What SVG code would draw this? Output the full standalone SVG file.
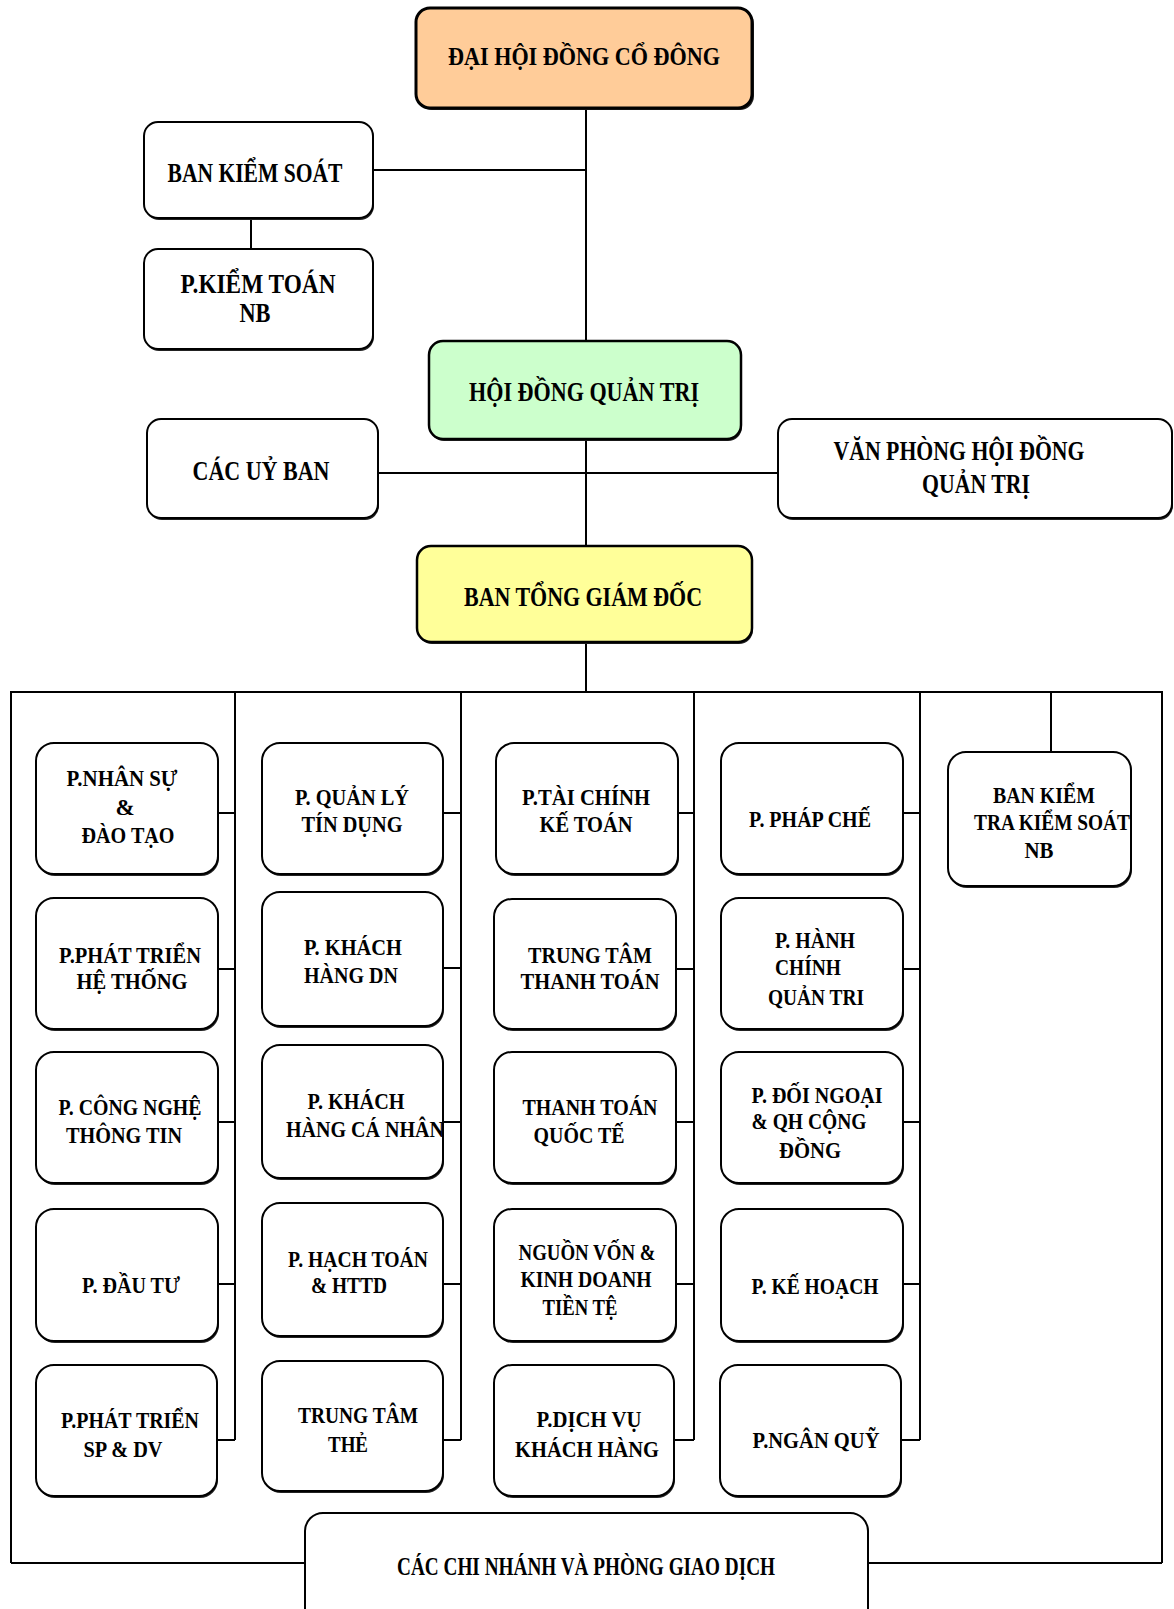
<svg xmlns="http://www.w3.org/2000/svg" width="1174" height="1609" viewBox="0 0 1174 1609">
<style>
.bx{fill:#fff;stroke:#000;stroke-width:2}
.sh{fill:#222;stroke:none}
.c1{fill:#FFCC99;stroke:#000;stroke-width:3}
.c2{fill:#CCFFCC;stroke:#000;stroke-width:2.5}
.c3{fill:#FFFF99;stroke:#000;stroke-width:2.5}
.ln{stroke:#000;stroke-width:2;fill:none}
text{font-family:"Liberation Serif","Times New Roman",serif;font-weight:bold;text-anchor:middle;fill:#000}
.f1{font-size:28px}
.f0{font-size:26px}
.f2{font-size:23px}
</style>
<rect width="1174" height="1609" fill="#fff"/>
<g id="connectors">
<path class="ln" d="M586 108V341M586 439V546M586 642V692"/>
<path class="ln" d="M373 170H586M251 218V249M378 473H778"/>
<path class="ln" d="M11 1563V692H1162V1563M11 1563H305M868 1563H1162"/>
<path class="ln" d="M1051 692V752"/>
<path class="ln" d="M235 692V1440M461 692V1440M694 692V1440M920 692V1440"/>
<path class="ln" d="M218 813H235M218 969H235M218 1122H235M218 1284H235M217 1440H235"/>
<path class="ln" d="M443 813H461M443 968H461M443 1122H461M443 1284H461M443 1440H461"/>
<path class="ln" d="M677 813H694M676 969H694M676 1122H694M676 1284H694M674 1440H694"/>
<path class="ln" d="M903 813H920M903 969H920M903 1122H920M903 1284H920M901 1440H920"/>
</g>
<g id="dhdcd"><rect class="sh" x="418" y="10" width="336" height="100" rx="14"/><rect class="c1" x="416" y="8" width="336" height="100" rx="14"/><text class="f0" x="584" y="65" textLength="272" lengthAdjust="spacingAndGlyphs">ĐẠI HỘI ĐỒNG CỔ ĐÔNG</text></g>
<g id="bks"><rect class="sh" x="145" y="124" width="229" height="96" rx="14"/><rect class="bx" x="144" y="122" width="229" height="96" rx="14"/><text class="f1" x="255" y="182" textLength="175" lengthAdjust="spacingAndGlyphs">BAN KIỂM SOÁT</text></g>
<g id="pkt"><rect class="sh" x="145" y="251" width="229" height="100" rx="14"/><rect class="bx" x="144" y="249" width="229" height="100" rx="14"/><text class="f1" x="258" y="293" textLength="155" lengthAdjust="spacingAndGlyphs">P.KIỂM TOÁN</text><text class="f1" x="255" y="322" textLength="31" lengthAdjust="spacingAndGlyphs">NB</text></g>
<g id="hdqt"><rect class="sh" x="430" y="343" width="312" height="98" rx="14"/><rect class="c2" x="429" y="341" width="312" height="98" rx="14"/><text class="f1" x="584" y="401" textLength="230" lengthAdjust="spacingAndGlyphs">HỘI ĐỒNG QUẢN TRỊ</text></g>
<g id="ucb"><rect class="sh" x="148" y="421" width="231" height="99" rx="14"/><rect class="bx" x="147" y="419" width="231" height="99" rx="14"/><text class="f1" x="261" y="480" textLength="137" lengthAdjust="spacingAndGlyphs">CÁC UỶ BAN</text></g>
<g id="vp"><rect class="sh" x="779" y="421" width="394" height="99" rx="14"/><rect class="bx" x="778" y="419" width="394" height="99" rx="14"/><text class="f1" x="959" y="460" textLength="251" lengthAdjust="spacingAndGlyphs">VĂN PHÒNG HỘI ĐỒNG</text><text class="f1" x="976" y="493" textLength="108" lengthAdjust="spacingAndGlyphs">QUẢN TRỊ</text></g>
<g id="btgd"><rect class="sh" x="418" y="548" width="335" height="96" rx="14"/><rect class="c3" x="417" y="546" width="335" height="96" rx="14"/><text class="f1" x="583" y="606" textLength="238" lengthAdjust="spacingAndGlyphs">BAN TỔNG GIÁM ĐỐC</text></g>

<g id="c1r1"><rect class="sh" x="37" y="745" width="182" height="131" rx="18"/><rect class="bx" x="36" y="743" width="182" height="131" rx="18"/><text class="f2" x="122" y="786" textLength="111" lengthAdjust="spacingAndGlyphs">P.NHÂN SỰ</text><text class="f2" x="125" y="815">&amp;</text><text class="f2" x="128" y="843" textLength="93" lengthAdjust="spacingAndGlyphs">ĐÀO TẠO</text></g>
<g id="c1r2"><rect class="sh" x="37" y="900" width="182" height="131" rx="18"/><rect class="bx" x="36" y="898" width="182" height="131" rx="18"/><text class="f2" x="130" y="963" textLength="142" lengthAdjust="spacingAndGlyphs">P.PHÁT TRIỂN</text><text class="f2" x="132" y="989" textLength="111" lengthAdjust="spacingAndGlyphs">HỆ THỐNG</text></g>
<g id="c1r3"><rect class="sh" x="37" y="1054" width="182" height="131" rx="18"/><rect class="bx" x="36" y="1052" width="182" height="131" rx="18"/><text class="f2" x="130" y="1115" textLength="143" lengthAdjust="spacingAndGlyphs">P. CÔNG NGHỆ</text><text class="f2" x="124" y="1143" textLength="116" lengthAdjust="spacingAndGlyphs">THÔNG TIN</text></g>
<g id="c1r4"><rect class="sh" x="37" y="1211" width="182" height="132" rx="18"/><rect class="bx" x="36" y="1209" width="182" height="132" rx="18"/><text class="f2" x="131" y="1293" textLength="98" lengthAdjust="spacingAndGlyphs">P. ĐẦU TƯ</text></g>
<g id="c1r5"><rect class="sh" x="37" y="1367" width="181" height="131" rx="18"/><rect class="bx" x="36" y="1365" width="181" height="131" rx="18"/><text class="f2" x="130" y="1428" textLength="138" lengthAdjust="spacingAndGlyphs">P.PHÁT TRIỂN</text><text class="f2" x="123" y="1457" textLength="79" lengthAdjust="spacingAndGlyphs">SP &amp; DV</text></g>

<g id="c2r1"><rect class="sh" x="263" y="745" width="181" height="131" rx="18"/><rect class="bx" x="262" y="743" width="181" height="131" rx="18"/><text class="f2" x="352" y="805" textLength="114" lengthAdjust="spacingAndGlyphs">P. QUẢN LÝ</text><text class="f2" x="352" y="832" textLength="101" lengthAdjust="spacingAndGlyphs">TÍN DỤNG</text></g>
<g id="c2r2"><rect class="sh" x="263" y="894" width="181" height="134" rx="18"/><rect class="bx" x="262" y="892" width="181" height="134" rx="18"/><text class="f2" x="353" y="955" textLength="98" lengthAdjust="spacingAndGlyphs">P. KHÁCH</text><text class="f2" x="351" y="983" textLength="94" lengthAdjust="spacingAndGlyphs">HÀNG DN</text></g>
<g id="c2r3"><rect class="sh" x="263" y="1047" width="181" height="133" rx="18"/><rect class="bx" x="262" y="1045" width="181" height="133" rx="18"/><text class="f2" x="356" y="1109" textLength="97" lengthAdjust="spacingAndGlyphs">P. KHÁCH</text><text class="f2" x="365" y="1137" textLength="158" lengthAdjust="spacingAndGlyphs">HÀNG CÁ NHÂN</text></g>
<g id="c2r4"><rect class="sh" x="263" y="1205" width="181" height="133" rx="18"/><rect class="bx" x="262" y="1203" width="181" height="133" rx="18"/><text class="f2" x="358" y="1267" textLength="140" lengthAdjust="spacingAndGlyphs">P. HẠCH TOÁN</text><text class="f2" x="349" y="1293" textLength="76" lengthAdjust="spacingAndGlyphs">&amp; HTTD</text></g>
<g id="c2r5"><rect class="sh" x="263" y="1363" width="181" height="130" rx="18"/><rect class="bx" x="262" y="1361" width="181" height="130" rx="18"/><text class="f2" x="358" y="1423" textLength="120" lengthAdjust="spacingAndGlyphs">TRUNG TÂM</text><text class="f2" x="348" y="1452" textLength="40" lengthAdjust="spacingAndGlyphs">THẺ</text></g>

<g id="c3r1"><rect class="sh" x="497" y="745" width="182" height="131" rx="18"/><rect class="bx" x="496" y="743" width="182" height="131" rx="18"/><text class="f2" x="586" y="805" textLength="128" lengthAdjust="spacingAndGlyphs">P.TÀI CHÍNH</text><text class="f2" x="586" y="832" textLength="93" lengthAdjust="spacingAndGlyphs">KẾ TOÁN</text></g>
<g id="c3r2"><rect class="sh" x="495" y="901" width="182" height="130" rx="18"/><rect class="bx" x="494" y="899" width="182" height="130" rx="18"/><text class="f2" x="590" y="963" textLength="124" lengthAdjust="spacingAndGlyphs">TRUNG TÂM</text><text class="f2" x="590" y="989" textLength="139" lengthAdjust="spacingAndGlyphs">THANH TOÁN</text></g>
<g id="c3r3"><rect class="sh" x="495" y="1054" width="182" height="131" rx="18"/><rect class="bx" x="494" y="1052" width="182" height="131" rx="18"/><text class="f2" x="590" y="1115" textLength="135" lengthAdjust="spacingAndGlyphs">THANH TOÁN</text><text class="f2" x="579" y="1143" textLength="91" lengthAdjust="spacingAndGlyphs">QUỐC TẾ</text></g>
<g id="c3r4"><rect class="sh" x="495" y="1211" width="182" height="132" rx="18"/><rect class="bx" x="494" y="1209" width="182" height="132" rx="18"/><text class="f2" x="587" y="1260" textLength="137" lengthAdjust="spacingAndGlyphs">NGUỒN VỐN &amp;</text><text class="f2" x="586" y="1287" textLength="131" lengthAdjust="spacingAndGlyphs">KINH DOANH</text><text class="f2" x="580" y="1315" textLength="75" lengthAdjust="spacingAndGlyphs">TIỀN TỆ</text></g>
<g id="c3r5"><rect class="sh" x="495" y="1367" width="180" height="131" rx="18"/><rect class="bx" x="494" y="1365" width="180" height="131" rx="18"/><text class="f2" x="589" y="1427" textLength="105" lengthAdjust="spacingAndGlyphs">P.DỊCH VỤ</text><text class="f2" x="587" y="1457" textLength="144" lengthAdjust="spacingAndGlyphs">KHÁCH HÀNG</text></g>

<g id="c4r1"><rect class="sh" x="722" y="745" width="182" height="131" rx="18"/><rect class="bx" x="721" y="743" width="182" height="131" rx="18"/><text class="f2" x="810" y="827" textLength="122" lengthAdjust="spacingAndGlyphs">P. PHÁP CHẾ</text></g>
<g id="c4r2"><rect class="sh" x="722" y="900" width="182" height="131" rx="18"/><rect class="bx" x="721" y="898" width="182" height="131" rx="18"/><text class="f2" x="815" y="948" textLength="80" lengthAdjust="spacingAndGlyphs">P. HÀNH</text><text class="f2" x="808" y="975" textLength="66" lengthAdjust="spacingAndGlyphs">CHÍNH</text><text class="f2" x="816" y="1005" textLength="96" lengthAdjust="spacingAndGlyphs">QUẢN TRI</text></g>
<g id="c4r3"><rect class="sh" x="722" y="1054" width="182" height="131" rx="18"/><rect class="bx" x="721" y="1052" width="182" height="131" rx="18"/><text class="f2" x="817" y="1103" textLength="131" lengthAdjust="spacingAndGlyphs">P. ĐỐI NGOẠI</text><text class="f2" x="809" y="1129" textLength="115" lengthAdjust="spacingAndGlyphs">&amp; QH CỘNG</text><text class="f2" x="810" y="1158" textLength="62" lengthAdjust="spacingAndGlyphs">ĐỒNG</text></g>
<g id="c4r4"><rect class="sh" x="722" y="1211" width="182" height="132" rx="18"/><rect class="bx" x="721" y="1209" width="182" height="132" rx="18"/><text class="f2" x="815" y="1294" textLength="127" lengthAdjust="spacingAndGlyphs">P. KẾ HOẠCH</text></g>
<g id="c4r5"><rect class="sh" x="721" y="1367" width="181" height="131" rx="18"/><rect class="bx" x="720" y="1365" width="181" height="131" rx="18"/><text class="f2" x="816" y="1448" textLength="127" lengthAdjust="spacingAndGlyphs">P.NGÂN QUỸ</text></g>

<g id="bktks"><rect class="sh" x="949" y="754" width="183" height="134" rx="18"/><rect class="bx" x="948" y="752" width="183" height="134" rx="18"/><text class="f2" x="1044" y="803" textLength="102" lengthAdjust="spacingAndGlyphs">BAN KIỂM</text><text class="f2" x="1052" y="830" textLength="156" lengthAdjust="spacingAndGlyphs">TRA KIỂM SOÁT</text><text class="f2" x="1039" y="858" textLength="29" lengthAdjust="spacingAndGlyphs">NB</text></g>

<g id="cn"><rect class="sh" x="306" y="1515" width="563" height="130" rx="18"/><rect class="bx" x="305" y="1513" width="563" height="130" rx="18"/><text class="f0" x="586" y="1575" textLength="378" lengthAdjust="spacingAndGlyphs">CÁC CHI NHÁNH VÀ PHÒNG GIAO DỊCH</text></g>
</svg>
